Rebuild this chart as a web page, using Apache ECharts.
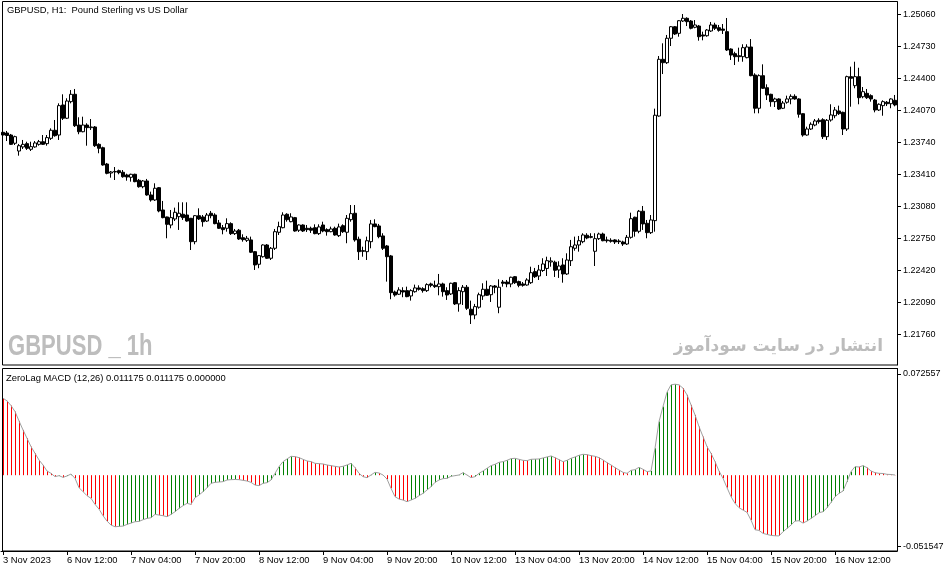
<!DOCTYPE html>
<html>
<head>
<meta charset="utf-8">
<script src="https://cdn.jsdelivr.net/npm/echarts@6/dist/echarts.min.js"></script>
<style>html,body{margin:0;padding:0;background:#fff}#c{width:951px;height:572px}</style>
</head>
<body>
<div id="c"></div>
<script>
// ---- data (GBPUSD H1) ----
const open = [1.23843,1.23836,1.23815,1.23730,1.23650,1.23692,1.23726,1.23668,1.23692,1.23719,
1.23746,1.23726,1.23781,1.23864,1.23815,1.24125,1.23988,1.24159,1.24235,1.23918,
1.23849,1.23918,1.23891,1.23898,1.23719,1.23684,1.23516,1.23423,1.23434,1.23447,
1.23431,1.23403,1.23379,1.23410,1.23348,1.23282,1.23341,1.23197,1.23145,1.23272,
1.23042,1.22970,1.22887,1.22949,1.22973,1.22998,1.22990,1.22956,1.22715,1.22983,
1.22970,1.22928,1.23008,1.22990,1.22908,1.22859,1.22853,1.22901,1.22798,1.22833,
1.22756,1.22729,1.22733,1.22612,1.22482,1.22560,1.22681,1.22544,1.22647,1.22812,
1.22859,1.22998,1.22921,1.22963,1.22833,1.22887,1.22853,1.22853,1.22859,1.22798,
1.22887,1.22839,1.22818,1.22853,1.22777,1.22880,1.22812,1.22942,1.23008,1.22740,
1.22622,1.22612,1.22715,1.22898,1.22877,1.22774,1.22671,1.22568,1.22196,1.22173,
1.22210,1.22210,1.22155,1.22199,1.22238,1.22230,1.22210,1.22279,1.22265,1.22251,
1.22279,1.22210,1.22176,1.22292,1.22073,1.22199,1.22245,1.22018,1.21959,1.22039,
1.22155,1.22224,1.22168,1.22258,1.22039,1.22299,1.22299,1.22279,1.22354,1.22303,
1.22279,1.22268,1.22292,1.22406,1.22361,1.22418,1.22439,1.22506,1.22503,1.22423,
1.22475,1.22382,1.22519,1.22647,1.22681,1.22715,1.22781,1.22767,1.22616,1.22746,
1.22794,1.22733,1.22729,1.22733,1.22722,1.22712,1.22691,1.22760,1.22967,1.22822,
1.23029,1.22905,1.22808,1.22932,1.24011,1.24596,1.24561,1.24813,1.24932,1.24864,
1.24991,1.25019,1.24991,1.24926,1.24939,1.24847,1.24839,1.24888,1.24950,1.24922,
1.24908,1.24881,1.24702,1.24654,1.24633,1.24623,1.24613,1.24723,1.24434,1.24091,
1.24427,1.24303,1.24235,1.24159,1.24187,1.24091,1.24153,1.24187,1.24214,1.24187,
1.24035,1.23815,1.23877,1.23918,1.23967,1.23973,1.23798,1.23970,1.24014,1.24063,
1.24049,1.23877,1.24417,1.24324,1.24417,1.24210,1.24245,1.24221,1.24176,1.24073,
1.24118,1.24153,1.24138,1.24173];
const close = [1.23815,1.23810,1.23719,1.23798,1.23705,1.23719,1.23678,1.23695,1.23733,1.23746,
1.23719,1.23788,1.23864,1.23808,1.24118,1.23988,1.24166,1.24235,1.23911,1.23849,
1.23918,1.23891,1.23898,1.23705,1.23678,1.23506,1.23420,1.23434,1.23439,1.23427,
1.23385,1.23382,1.23410,1.23334,1.23282,1.23341,1.23197,1.23145,1.23266,1.23032,
1.22963,1.22894,1.22963,1.23018,1.23008,1.22963,1.22928,1.22715,1.22983,1.22949,
1.22921,1.22990,1.22983,1.22901,1.22853,1.22839,1.22901,1.22798,1.22825,1.22743,
1.22736,1.22750,1.22606,1.22475,1.22571,1.22681,1.22544,1.22647,1.22818,1.22870,
1.22990,1.22942,1.22970,1.22825,1.22887,1.22825,1.22839,1.22833,1.22798,1.22867,
1.22825,1.22818,1.22846,1.22784,1.22867,1.22818,1.22956,1.23004,1.22733,1.22612,
1.22616,1.22725,1.22898,1.22870,1.22767,1.22647,1.22560,1.22189,1.22165,1.22217,
1.22196,1.22148,1.22210,1.22238,1.22224,1.22210,1.22272,1.22265,1.22251,1.22279,
1.22199,1.22165,1.22286,1.22073,1.22210,1.22245,1.22028,1.21959,1.22045,1.22168,
1.22224,1.22162,1.22258,1.22245,1.22245,1.22286,1.22279,1.22348,1.22292,1.22265,
1.22265,1.22320,1.22395,1.22354,1.22423,1.22485,1.22519,1.22516,1.22420,1.22464,
1.22382,1.22526,1.22663,1.22681,1.22725,1.22784,1.22753,1.22760,1.22746,1.22794,
1.22725,1.22725,1.22719,1.22712,1.22715,1.22691,1.22760,1.22952,1.22822,1.23029,
1.22898,1.22808,1.22939,1.24019,1.24596,1.24561,1.24813,1.24932,1.24857,1.24994,
1.25019,1.24984,1.24916,1.24950,1.24829,1.24836,1.24898,1.24950,1.24916,1.24895,
1.24895,1.24692,1.24640,1.24623,1.24623,1.24716,1.24723,1.24427,1.24091,1.24427,
1.24297,1.24228,1.24159,1.24187,1.24083,1.24145,1.24187,1.24214,1.24187,1.24029,
1.23815,1.23877,1.23926,1.23960,1.23953,1.23798,1.23967,1.24022,1.24073,1.24035,
1.23877,1.24417,1.24400,1.24417,1.24200,1.24262,1.24200,1.24187,1.24073,1.24132,
1.24159,1.24138,1.24187,1.24125];
const low = [1.23805,1.23753,1.23712,1.23712,1.23602,1.23671,1.23661,1.23650,1.23684,1.23705,
1.23712,1.23705,1.23764,1.23798,1.23764,1.23970,1.23980,1.24142,1.23898,1.23823,
1.23843,1.23705,1.23867,1.23692,1.23627,1.23499,1.23410,1.23375,1.23351,1.23410,
1.23375,1.23344,1.23334,1.23328,1.23272,1.23266,1.23189,1.23128,1.23135,1.23018,
1.22956,1.22750,1.22853,1.22928,1.22836,1.22939,1.22921,1.22629,1.22688,1.22939,
1.22870,1.22918,1.22956,1.22894,1.22846,1.22791,1.22818,1.22784,1.22784,1.22733,
1.22715,1.22712,1.22598,1.22423,1.22441,1.22550,1.22537,1.22526,1.22629,1.22784,
1.22853,1.22921,1.22915,1.22818,1.22815,1.22815,1.22815,1.22805,1.22791,1.22784,
1.22812,1.22777,1.22812,1.22777,1.22763,1.22805,1.22699,1.22921,1.22715,1.22526,
1.22560,1.22526,1.22647,1.22864,1.22750,1.22629,1.22303,1.22121,1.22148,1.22165,
1.22142,1.22142,1.22107,1.22189,1.22210,1.22189,1.22196,1.22245,1.22238,1.22162,
1.22148,1.22114,1.22165,1.22062,1.21993,1.22062,1.22011,1.21866,1.21915,1.22024,
1.22114,1.22155,1.22093,1.22183,1.21977,1.22251,1.22245,1.22245,1.22279,1.22245,
1.22251,1.22261,1.22279,1.22341,1.22320,1.22403,1.22361,1.22457,1.22351,1.22341,
1.22292,1.22372,1.22464,1.22622,1.22612,1.22699,1.22740,1.22750,1.22464,1.22733,
1.22719,1.22705,1.22705,1.22691,1.22691,1.22671,1.22681,1.22746,1.22767,1.22802,
1.22836,1.22750,1.22794,1.22818,1.24004,1.24444,1.24548,1.24733,1.24847,1.24829,
1.24981,1.24939,1.24905,1.24916,1.24788,1.24792,1.24829,1.24878,1.24898,1.24881,
1.24857,1.24682,1.24589,1.24537,1.24571,1.24571,1.24606,1.24421,1.24039,1.24039,
1.24290,1.24176,1.24107,1.24104,1.24073,1.24083,1.24138,1.24132,1.24179,1.23994,
1.23798,1.23808,1.23867,1.23905,1.23932,1.23774,1.23764,1.23953,1.23988,1.24022,
1.23815,1.23857,1.24107,1.24297,1.24132,1.24194,1.24187,1.24159,1.24049,1.24063,
1.24014,1.24114,1.24091,1.24111];
const high = [1.23857,1.23857,1.23826,1.23808,1.23723,1.23764,1.23746,1.23746,1.23753,1.23764,
1.23815,1.23815,1.23884,1.23970,1.24142,1.24235,1.24194,1.24279,1.24290,1.23998,
1.24004,1.23936,1.23980,1.23908,1.23730,1.23695,1.23527,1.23444,1.23485,1.23458,
1.23454,1.23416,1.23416,1.23416,1.23362,1.23351,1.23362,1.23231,1.23317,1.23279,
1.23135,1.22973,1.23042,1.23066,1.23121,1.23121,1.23121,1.22960,1.22990,1.23059,
1.22990,1.23011,1.23032,1.23008,1.22939,1.22887,1.22956,1.22915,1.22846,1.22846,
1.22791,1.22774,1.22767,1.22619,1.22578,1.22688,1.22691,1.22660,1.22846,1.22921,
1.23018,1.23008,1.23008,1.22970,1.22894,1.22894,1.22887,1.22870,1.22894,1.22894,
1.22921,1.22853,1.22870,1.22870,1.22901,1.22894,1.22990,1.23093,1.23093,1.22767,
1.22663,1.22767,1.22939,1.22946,1.22898,1.22802,1.22681,1.22578,1.22210,1.22245,
1.22245,1.22251,1.22224,1.22272,1.22265,1.22245,1.22286,1.22292,1.22313,1.22382,
1.22292,1.22245,1.22292,1.22299,1.22245,1.22268,1.22268,1.22107,1.22073,1.22189,
1.22286,1.22313,1.22268,1.22268,1.22327,1.22320,1.22320,1.22354,1.22361,1.22313,
1.22299,1.22338,1.22457,1.22444,1.22475,1.22544,1.22560,1.22554,1.22519,1.22513,
1.22544,1.22595,1.22733,1.22767,1.22774,1.22802,1.22802,1.22802,1.22802,1.22808,
1.22808,1.22767,1.22750,1.22740,1.22740,1.22725,1.22784,1.23014,1.22973,1.23042,
1.23083,1.22939,1.22990,1.24087,1.24630,1.24761,1.24847,1.24939,1.24939,1.25001,
1.25063,1.25029,1.25001,1.25001,1.24950,1.24881,1.24908,1.24981,1.24973,1.24950,
1.24960,1.25022,1.24709,1.24674,1.24716,1.24751,1.24751,1.24805,1.24452,1.24441,
1.24544,1.24338,1.24241,1.24200,1.24194,1.24166,1.24221,1.24235,1.24235,1.24194,
1.24039,1.23901,1.23946,1.23980,1.23988,1.23988,1.23980,1.24132,1.24104,1.24118,
1.24056,1.24427,1.24520,1.24571,1.24509,1.24310,1.24290,1.24235,1.24187,1.24142,
1.24173,1.24166,1.24194,1.24228];
const macd = [0.05235,0.05053,0.04735,0.04327,0.03691,0.03078,0.02511,0.01943,0.01489,0.01035,
0.00695,0.00286,0.00127,-0.00100,-0.00032,-0.00145,-0.00054,0.00082,-0.00213,-0.00849,
-0.01121,-0.01394,-0.01575,-0.01984,-0.02302,-0.02756,-0.03119,-0.03391,-0.03505,-0.03482,
-0.03459,-0.03346,-0.03255,-0.03164,-0.03141,-0.03028,-0.02937,-0.02892,-0.02665,-0.02710,
-0.02756,-0.02824,-0.02665,-0.02483,-0.02256,-0.02075,-0.01916,-0.01984,-0.01530,-0.01348,
-0.01121,-0.00849,-0.00554,-0.00486,-0.00463,-0.00440,-0.00327,-0.00304,-0.00293,-0.00304,
-0.00350,-0.00395,-0.00486,-0.00667,-0.00713,-0.00554,-0.00508,-0.00327,0.00127,0.00581,
0.00922,0.01103,0.01285,0.01262,0.01194,0.01081,0.00967,0.00922,0.00808,0.00785,
0.00763,0.00695,0.00649,0.00604,0.00558,0.00604,0.00695,0.00808,0.00513,0.00127,
-0.00100,-0.00168,0.00014,0.00195,0.00150,0.00014,-0.00259,-0.00894,-0.01462,-0.01621,
-0.01689,-0.01802,-0.01689,-0.01575,-0.01394,-0.01235,-0.01008,-0.00781,-0.00486,-0.00327,
-0.00236,-0.00213,-0.00077,-0.00032,0.00014,0.00173,0.00014,-0.00168,-0.00100,0.00127,
0.00286,0.00468,0.00649,0.00740,0.00876,0.00922,0.01012,0.01126,0.01149,0.01081,
0.01012,0.00990,0.01081,0.01092,0.01103,0.01171,0.01239,0.01308,0.01194,0.01058,
0.00922,0.01012,0.01149,0.01239,0.01353,0.01421,0.01398,0.01330,0.01285,0.01194,
0.01035,0.00854,0.00695,0.00513,0.00354,0.00195,0.00127,0.00331,0.00377,0.00536,
0.00400,0.00241,0.00286,0.01830,0.03646,0.04667,0.05643,0.06143,0.06188,0.06143,
0.05916,0.05462,0.04781,0.04100,0.03305,0.02624,0.01943,0.01489,0.00922,0.00286,
-0.00213,-0.00849,-0.01462,-0.01916,-0.02211,-0.02370,-0.02529,-0.03051,-0.03709,-0.03755,
-0.03959,-0.04027,-0.04095,-0.04118,-0.04129,-0.03845,-0.03618,-0.03391,-0.03119,-0.03096,
-0.03255,-0.03119,-0.02937,-0.02756,-0.02551,-0.02483,-0.02211,-0.01848,-0.01462,-0.01235,
-0.01076,-0.00440,0.00241,0.00581,0.00558,0.00649,0.00513,0.00286,0.00173,0.00127,
0.00116,0.00059,0.00048,0.00014];
const priceTicks = ['1.25060','1.24730','1.24400','1.24070','1.23740','1.23410','1.23080','1.22750','1.22420','1.22090','1.21760'];
const timeTicks = ['3 Nov 2023','6 Nov 12:00','7 Nov 04:00','7 Nov 20:00','8 Nov 12:00','9 Nov 04:00','9 Nov 20:00','10 Nov 12:00','13 Nov 04:00','13 Nov 20:00','14 Nov 12:00','15 Nov 04:00','15 Nov 20:00','16 Nov 12:00'];
const macdTicks = ['0.072557','-0.051547'];
const macdMin = -0.051547, macdMax = 0.072557;

// hourly bar times (weekends skipped)
const categories = [];
(function(){
  let t = Date.UTC(2023,10,3,20);
  while (categories.length < open.length) {
    const d = new Date(t); const wd = d.getUTCDay();
    if (wd !== 0 && wd !== 6) categories.push(d.toISOString().slice(0,16));
    t += 3600000;
  }
})();

const FONT = 'Liberation Sans, Arial, sans-serif';
const candleData = open.map((o,i)=>[o, close[i], low[i], high[i]]);
const histData = macd.map((v,i)=>[i, v, (i===0 || v < macd[i-1]) ? 0 : 1]);
const histColors = ['#ff0000', '#008000'];
const tickEvery = 16;
const showIdx = (idx)=> idx % tickEvery === 0;

const priceMax = 1.25187, priceMin = 1.21443;
const macdTickPos = [macdMax - (5.5/182.5)*(macdMax-macdMin), macdMax - (178/182.5)*(macdMax-macdMin)];

const chart = echarts.init(document.getElementById('c'), null, {renderer:'canvas'});
chart.setOption({
  animation:false,
  backgroundColor:'#ffffff',
  grid:[
    {left:1, top:2, width:896, height:363, show:false},
    {left:1, top:368.5, width:896, height:182.5, show:false}
  ],
  xAxis:[
    {type:'category', gridIndex:0, data:categories, boundaryGap:true, show:false},
    {type:'category', gridIndex:1, data:categories, boundaryGap:true,
     axisLine:{show:true, onZero:false, lineStyle:{color:'#000', width:1}},
     axisTick:{show:true, interval:(i)=>showIdx(i), alignWithLabel:true, length:4, lineStyle:{color:'#000'}},
     axisLabel:{interval:(i)=>showIdx(i), formatter:(v,idx)=> showIdx(idx) ? timeTicks[idx/tickEvery] : '',
       align:'left', margin:5, fontSize:9.4, color:'#000', fontFamily:FONT},
     splitLine:{show:false}}
  ],
  yAxis:[
    {type:'value', gridIndex:0, position:'right', min:priceMin, max:priceMax, scale:true,
     axisLine:{show:true, lineStyle:{color:'#000'}},
     axisTick:{show:true, length:4, customValues:priceTicks.map(Number), lineStyle:{color:'#000'}},
     axisLabel:{customValues:priceTicks.map(Number), formatter:(v)=>v.toFixed(5), margin:6, fontSize:9, color:'#000', fontFamily:FONT},
     splitLine:{show:false}},
    {type:'value', gridIndex:1, position:'right', min:macdMin, max:macdMax,
     axisLine:{show:true, lineStyle:{color:'#000'}},
     axisTick:{show:true, length:4, customValues:macdTickPos, lineStyle:{color:'#000'}},
     axisLabel:{customValues:macdTickPos, formatter:(v)=> v > 0 ? macdTicks[0] : macdTicks[1], margin:6, fontSize:9, color:'#000', fontFamily:FONT},
     splitLine:{show:false}}
  ],
  series:[
    {type:'candlestick', xAxisIndex:0, yAxisIndex:0, data:candleData, barWidth:3,
     itemStyle:{color:'#ffffff', color0:'#000000', borderColor:'#000000', borderColor0:'#000000', borderColorDoji:'#000000', borderWidth:1}},
    {type:'custom', xAxisIndex:1, yAxisIndex:1, data:histData, encode:{x:0, y:1},
     renderItem:function(params, api){
       const p0 = api.coord([api.value(0), 0]);
       const p1 = api.coord([api.value(0), api.value(1)]);
       const x = Math.round(p0[0]) + 0.5;
       return {type:'line', shape:{x1:x, y1:p0[1], x2:x, y2:p1[1]},
               style:{stroke: histColors[api.value(2)], lineWidth:1}};
     }},
    {type:'line', xAxisIndex:1, yAxisIndex:1, data:macd, symbol:'none', lineStyle:{color:'#a0a0a0', width:1}, itemStyle:{color:'#a0a0a0'}, z:3}
  ],
  graphic:[
    {type:'rect', silent:true, z:100, shape:{x:2.5, y:1.5, width:895, height:363.5}, style:{fill:'none', stroke:'#000', lineWidth:1}},
    {type:'rect', silent:true, z:100, shape:{x:2.5, y:368.5, width:895, height:182.5}, style:{fill:'none', stroke:'#000', lineWidth:1}},
    {type:'text', silent:true, z:101, x:7, y:10.5, style:{text:'GBPUSD, H1:  Pound Sterling vs US Dollar', fill:'#000', font:'9.4px '+FONT, textAlign:'left', textVerticalAlign:'middle', align:'left', verticalAlign:'middle'}},
    {type:'text', silent:true, z:101, x:6, y:378, style:{text:'ZeroLag MACD (12,26) 0.011175 0.011175 0.000000', fill:'#000', font:'9.4px '+FONT, textAlign:'left', textVerticalAlign:'middle', align:'left', verticalAlign:'middle'}},
    {type:'text', silent:true, z:50, x:8, y:347, scaleX:0.76, style:{text:'GBPUSD _ 1h', fill:'#bdbdbd', font:'bold 29px '+FONT, textAlign:'left', textVerticalAlign:'middle', align:'left', verticalAlign:'middle'}},
    {type:'text', silent:true, z:50, x:883, y:347, style:{text:'انتشار در سایت سودآموز', fill:'#bcbcbc', font:'bold 17px DejaVu Sans, Noto Sans, sans-serif', textAlign:'right', textVerticalAlign:'middle', align:'right', verticalAlign:'middle'}}
  ]
});
</script>
</body>
</html>
